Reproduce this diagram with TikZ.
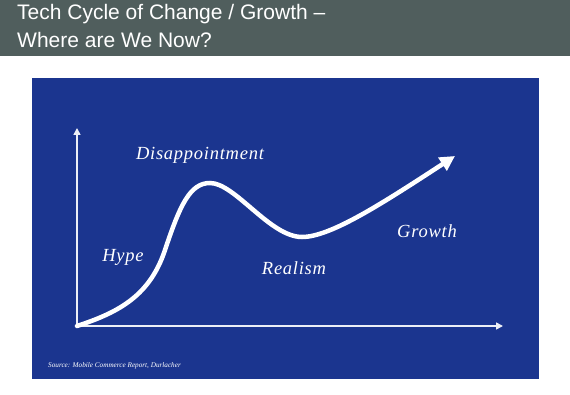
\documentclass[tikz,border=0pt]{standalone}
\usepackage{fontspec}
\setmainfont{Liberation Serif}
\newfontfamily\headfont{Liberation Sans}
\newfontfamily\phasefont[LetterSpace=4]{Liberation Serif}
\usetikzlibrary{arrows.meta}
\definecolor{headgray}{RGB}{80,94,93}
\definecolor{slideblue}{RGB}{27,53,143}
\tikzset{
  axis/.style={white!92!slideblue, line width=1.6pt, -{Triangle[length=7pt,width=7pt]}},
  cyclecurve/.style={white, line width=4.5pt, line cap=round, -{Triangle[length=15pt,width=15pt]}},
  phase/.style={white, font=\phasefont\fontsize{18.5}{20}\selectfont\itshape, inner sep=0pt},
}
\begin{document}
\begin{tikzpicture}[x=1pt,y=-1pt]
\useasboundingbox (0,0) rectangle (570,395);
\fill[white] (0,0) rectangle (570,395);
\fill[headgray] (0,0) rectangle (570,56);

% title
\node[anchor=base west, inner sep=0pt, white, font=\headfont\fontsize{21}{24}\selectfont] (title1) at (17,20) {Tech Cycle of Change / Growth \textendash};
\node[anchor=base west, inner sep=0pt, white, font=\headfont\fontsize{21}{24}\selectfont] (title2) at (17,48) {Where are We Now?};

% slide
\fill[slideblue] (32,78) rectangle (539,379);

\coordinate (origin) at (77,326);
\coordinate (ytop) at (77,128);
\coordinate (xend) at (503,326);
\draw[axis] (origin) -- (ytop);
\draw[axis] (origin) -- (xend);

% the cycle
\coordinate (peak) at (210,183);
\coordinate (trough) at (302,237);
\coordinate (tip) at (455,156);
\draw[cyclecurve] (origin) .. controls (120,312) and (150,295) .. (165,250)
  .. controls (180,205) and (190,183) .. (peak)
  .. controls (235,183) and (270,237) .. (trough)
  .. controls (330,237) and (380,205) .. (tip);

\node[phase] (disappointment) at (200,155) {Disappointment};
\node[phase] (hype) at (123,257) {Hype};
\node[phase] (realism) at (294,268) {Realism};
\node[phase] (growth) at (427,231) {Growth};

\node[anchor=west, inner sep=0pt, white, font=\fontsize{7.2}{8}\selectfont\itshape] (source) at (48,366) {Source: Mobile Commerce Report, Durlacher};
\end{tikzpicture}
\end{document}
